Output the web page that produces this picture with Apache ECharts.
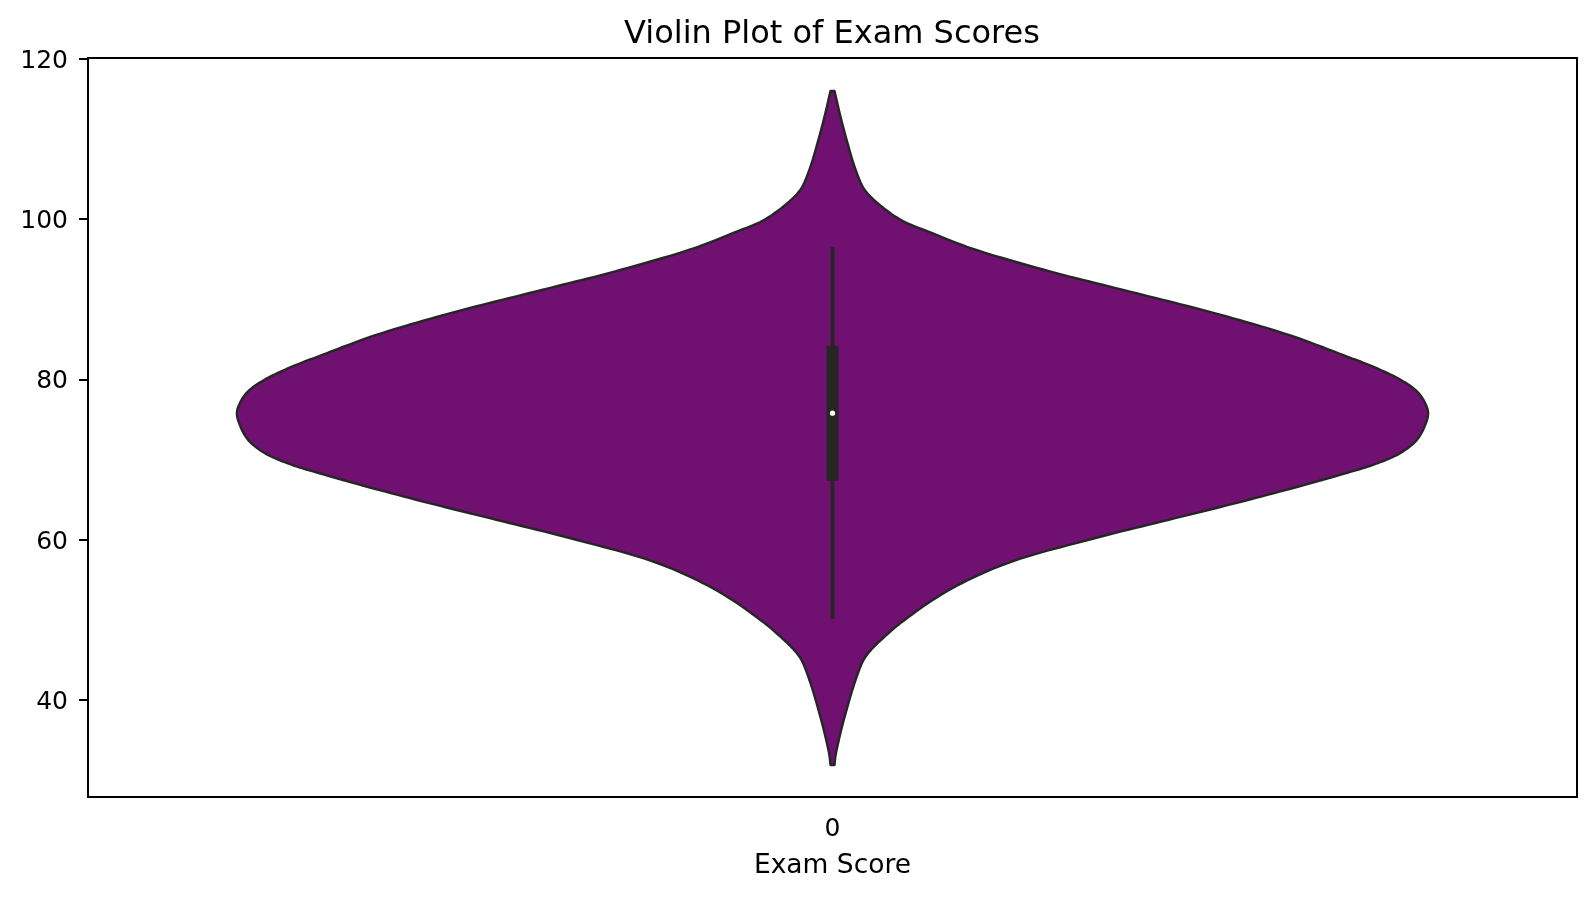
<!DOCTYPE html>
<html>
<head>
<meta charset="utf-8">
<script src="https://cdn.jsdelivr.net/npm/echarts@6/dist/echarts.min.js"></script>
<style>
html,body{margin:0;padding:0;background:#fff;}
#chart{width:1596px;height:898px;}
</style>
</head>
<body>
<div id="chart"></div>
<script>
// Category on the x axis
const categories = ['0'];
// y-axis tick labels
const yTicks = [40, 60, 80, 100, 120];
// Violin outline: score values and relative widths (density, 1 = widest)
const kdeScores = [116.0, 112.8, 109.5, 106.2, 103.7, 101.7, 99.8, 98.3, 96.4, 93.5, 91.0, 88.5, 85.8, 84.3, 83.1, 81.6, 80.0, 78.5, 77.05, 75.8, 74.3, 72.5, 70.8, 69.35, 68.1, 67.1, 64.8, 62.5, 60.0, 57.1, 53.7, 49.8, 47.9, 46.2, 45.0, 42.5, 39.2, 35.9, 33.0, 31.9];
const kdeWidths = [0.0034, 0.0134, 0.0252, 0.0387, 0.0538, 0.0807, 0.1176, 0.1664, 0.2319, 0.3647, 0.4975, 0.6303, 0.7563, 0.8134, 0.8555, 0.9076, 0.9529, 0.9815, 0.995, 1.0, 0.995, 0.9815, 0.9529, 0.9076, 0.8521, 0.805, 0.689, 0.5647, 0.4303, 0.2941, 0.195, 0.1176, 0.0874, 0.0639, 0.0521, 0.0387, 0.0252, 0.0134, 0.005, 0.0034];
// Box statistics: lower whisker, Q1, median, Q3, upper whisker
const boxStats = [50.1, 67.35, 75.8, 84.2, 96.5];

const chart = echarts.init(document.getElementById('chart'));
const FONT = 'DejaVu Sans';
const dark = '#262626';

// centripetal Catmull-Rom through the outline points (rendering only)
function spline(pts, steps) {
  const n = pts.length;
  const P = [];
  P.push([2 * pts[0][0] - pts[1][0], 2 * pts[0][1] - pts[1][1]]);
  for (const p of pts) P.push(p);
  P.push([2 * pts[n - 1][0] - pts[n - 2][0], 2 * pts[n - 1][1] - pts[n - 2][1]]);
  const out = [];
  const d = (a, b) => Math.pow(Math.hypot(b[0] - a[0], b[1] - a[1]) + 1e-6, 0.5);
  const lerp = (a, b, ta, tb, t) => {
    const w = (t - ta) / (tb - ta);
    return [a[0] + (b[0] - a[0]) * w, a[1] + (b[1] - a[1]) * w];
  };
  for (let i = 1; i < P.length - 2; i++) {
    const p0 = P[i - 1], p1 = P[i], p2 = P[i + 1], p3 = P[i + 2];
    const t0 = 0, t1 = t0 + d(p0, p1), t2 = t1 + d(p1, p2), t3 = t2 + d(p2, p3);
    for (let s = 0; s < steps; s++) {
      const t = t1 + (t2 - t1) * s / steps;
      const A1 = lerp(p0, p1, t0, t1, t), A2 = lerp(p1, p2, t1, t2, t), A3 = lerp(p2, p3, t2, t3, t);
      const B1 = lerp(A1, A2, t0, t2, t), B2 = lerp(A2, A3, t1, t3, t);
      out.push(lerp(B1, B2, t1, t2, t));
    }
  }
  out.push(pts[n - 1]);
  return out;
}

const option = {
  animation: false,
  backgroundColor: '#fff',
  graphic: [{
    type: 'text',
    x: 832, y: 35,
    style: {
      text: 'Violin Plot of Exam Scores',
      fontFamily: FONT, fontSize: 32, fill: '#000',
      textAlign: 'center', textVerticalAlign: 'middle'
    }
  }],
  grid: {
    left: 88, right: 19, top: 58, bottom: 101,
    show: true, borderColor: '#000', borderWidth: 2, backgroundColor: 'transparent'
  },
  xAxis: {
    type: 'category',
    data: categories,
    boundaryGap: true,
    name: 'Exam Score',
    nameLocation: 'middle',
    nameGap: 56,
    nameTextStyle: { fontFamily: FONT, fontSize: 26.5, color: '#000' },
    axisLine: { lineStyle: { color: '#000', width: 2 } },
    axisTick: { alignWithLabel: true, length: 9, lineStyle: { color: '#000', width: 2 } },
    axisLabel: { fontFamily: FONT, fontSize: 25, color: '#000', margin: 20 }
  },
  yAxis: {
    type: 'value',
    min: 27.9,
    max: 120.12,
    splitLine: { show: false },
    axisLine: { show: true, lineStyle: { color: '#000', width: 2 } },
    axisTick: { show: true, length: 9, customValues: yTicks, lineStyle: { color: '#000', width: 2 } },
    axisLabel: { fontFamily: FONT, fontSize: 25, color: '#000', margin: 20, customValues: yTicks, verticalAlign: 'top', lineHeight: 5 }
  },
  series: [
    {
      type: 'custom',
      name: 'violin',
      data: [[0, boxStats[2]]],
      encode: { x: 0, y: 1 },
      renderItem: function (params, api) {
        const band = api.size([1, 0])[0];
        const cx = api.coord([0, boxStats[2]])[0];
        const half = band * 0.4;
        const right = [];
        for (let i = 0; i < kdeScores.length; i++) {
          const y = api.coord([0, kdeScores[i]])[1];
          right.push([kdeWidths[i] * half, y]);
        }
        const curve = spline(right, 12);
        const pts = curve.map(p => [cx + p[0], p[1]])
          .concat(curve.slice().reverse().map(p => [cx - p[0], p[1]]));
        const yLo = api.coord([0, boxStats[0]])[1];
        const yQ1 = api.coord([0, boxStats[1]])[1];
        const yMed = api.coord([0, boxStats[2]])[1];
        const yQ3 = api.coord([0, boxStats[3]])[1];
        const yHi = api.coord([0, boxStats[4]])[1];
        return {
          type: 'group',
          children: [
            {
              type: 'polygon',
              shape: { points: pts },
              style: { fill: '#701070', stroke: dark, lineWidth: 2.4, lineJoin: 'round' }
            },
            {
              type: 'line',
              shape: { x1: cx, y1: yHi, x2: cx, y2: yLo },
              style: { stroke: dark, lineWidth: 4 }
            },
            {
              type: 'rect',
              shape: { x: cx - 6, y: yQ3, width: 12, height: yQ1 - yQ3 },
              style: { fill: dark }
            },
            {
              type: 'circle',
              shape: { cx: cx, cy: yMed, r: 2.6 },
              style: { fill: '#fff' }
            }
          ]
        };
      }
    }
  ]
};
chart.setOption(option);
</script>
</body>
</html>
